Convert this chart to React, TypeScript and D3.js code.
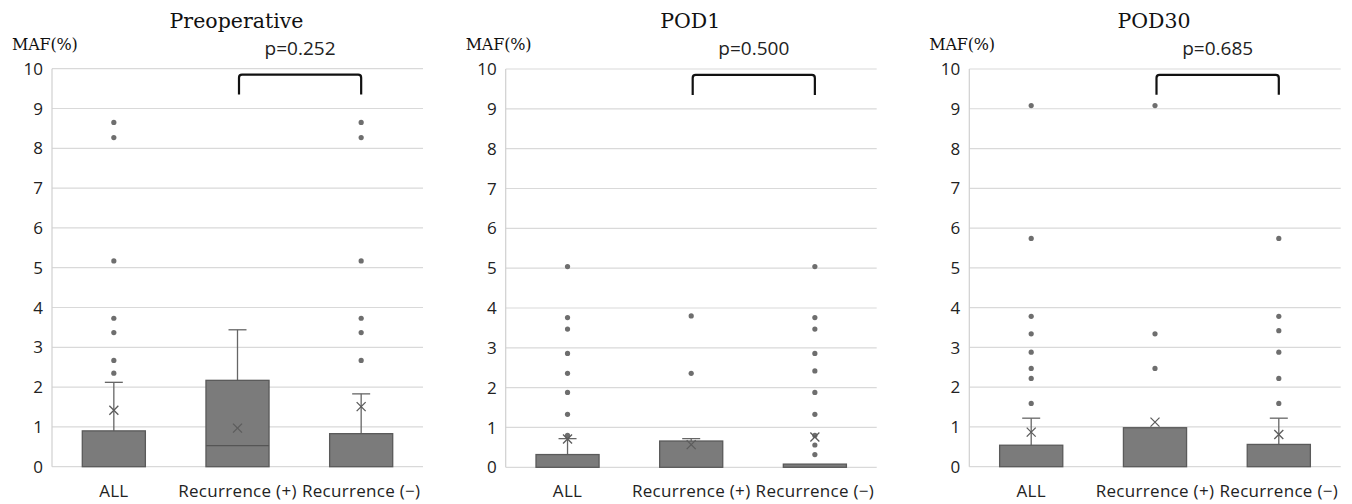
import * as d3 from 'd3';
import React from 'react';

const categories = ['ALL', 'Recurrence (+)', 'Recurrence (−)'];
const panelTitles = ['Preoperative', 'POD1', 'POD30'];
const pValues = ['p=0.252', 'p=0.500', 'p=0.685'];
const yTicks = [0, 1, 2, 3, 4, 5, 6, 7, 8, 9, 10];

// [q1, median, q3, whiskerHigh, mean] per category
const preBoxes = [
  [0, 0, 0.9, 2.12, 1.42],
  [0, 0.53, 2.17, 3.44, 0.97],
  [0, 0, 0.83, 1.83, 1.51],
];
const pod1Boxes = [
  [0, 0, 0.32, 0.72, 0.71],
  [0, 0, 0.66, 0.72, 0.57],
  [0, 0, 0.08, 0.08, 0.76],
];
const pod30Boxes = [
  [0, 0, 0.54, 1.22, 0.87],
  [0, 0, 0.98, 0.98, 1.12],
  [0, 0, 0.56, 1.22, 0.81],
];

const preOutliers = [
  [2.35, 2.67, 3.37, 3.73, 5.17, 8.27, 8.65],
  [],
  [2.67, 3.37, 3.73, 5.17, 8.27, 8.65],
];
const pod1Outliers = [
  [0.8, 1.33, 1.88, 2.36, 2.86, 3.47, 3.76, 5.04],
  [2.36, 3.8],
  [0.32, 0.56, 0.8, 1.33, 1.88, 2.42, 2.86, 3.47, 3.76, 5.04],
];
const pod30Outliers = [
  [1.59, 2.22, 2.47, 2.88, 3.34, 3.78, 5.74, 9.08],
  [2.47, 3.34, 9.08],
  [1.59, 2.22, 2.88, 3.42, 3.78, 5.74],
];

const boxesByPanel = [preBoxes, pod1Boxes, pod30Boxes];
const outliersByPanel = [preOutliers, pod1Outliers, pod30Outliers];

const panels = [
  { left: 52, right: 423, top: 68.7, bottom: 466.7 },
  { left: 505.7, right: 876.7, top: 69, bottom: 467.3 },
  { left: 969.3, right: 1340.7, top: 69, bottom: 466.7 },
];

const sans = "'Open Sans', 'Noto Sans', sans-serif";
const serif = "'DejaVu Serif', 'Liberation Serif', serif";

function Panel({ idx }: { idx: number }) {
  const p = panels[idx];
  const x = d3.scaleBand().domain(categories).range([p.left, p.right]);
  const y = d3.scaleLinear().domain([0, 10]).range([p.bottom, p.top]);
  const bw = x.bandwidth() * 0.51;
  const boxes = boxesByPanel[idx];
  const outliers = outliersByPanel[idx];
  const cx = (c: string) => (x(c) as number) + x.bandwidth() / 2;
  const bl = cx(categories[1]) + 1.5;
  const br = cx(categories[2]);
  const bTop = y(9.85);
  const bBot = y(9.35);
  const r = 3;
  return (
    <g>
      <text x={(p.left + p.right) / 2 - 1} y={28} textAnchor="middle" fontFamily={serif} fontSize={20.5} fill="#111">
        {panelTitles[idx]}
      </text>
      <text x={p.left - 40} y={50} fontFamily={serif} fontSize={16} fill="#111" letterSpacing={-0.2}>
        MAF(%)
      </text>
      {yTicks.map((t) => (
        <g key={t}>
          <line x1={p.left} x2={p.right} y1={y(t)} y2={y(t)} stroke="#d9d9d9" strokeWidth={1.2} />
          <text x={p.left - 9} y={y(t)} dy="0.36em" textAnchor="end" fontFamily={sans} fontSize={17} fill="#222">
            {t}
          </text>
        </g>
      ))}
      <line x1={p.left} x2={p.left} y1={p.top} y2={p.bottom} stroke="#d0d0d0" strokeWidth={1.2} />
      {categories.map((c, i) => {
        const [q1, med, q3, wh, mean] = boxes[i];
        const c0 = cx(c);
        return (
          <g key={c}>
            {wh > q3 && (
              <g stroke="#666" strokeWidth={1.3}>
                <line x1={c0} x2={c0} y1={y(q3)} y2={y(wh)} />
                <line x1={c0 - 9} x2={c0 + 9} y1={y(wh)} y2={y(wh)} />
              </g>
            )}
            <rect
              x={c0 - bw / 2}
              y={y(q3)}
              width={bw}
              height={y(q1) - y(q3)}
              fill="#7b7b7b"
              stroke="#5a5a5a"
              strokeWidth={1.3}
            />
            {med > q1 && (
              <line x1={c0 - bw / 2} x2={c0 + bw / 2} y1={y(med)} y2={y(med)} stroke="#555" strokeWidth={1.3} />
            )}
            {outliers[i].map((v, k) => (
              <circle key={k} cx={c0} cy={y(v)} r={2.6} fill="#6e6e6e" />
            ))}
            <g stroke="#5c5c5c" strokeWidth={1.3}>
              <line x1={c0 - 4.5} x2={c0 + 4.5} y1={y(mean) - 4.5} y2={y(mean) + 4.5} />
              <line x1={c0 - 4.5} x2={c0 + 4.5} y1={y(mean) + 4.5} y2={y(mean) - 4.5} />
            </g>
            <text x={c0} y={497} textAnchor="middle" fontFamily={sans} fontSize={17} fill="#222" letterSpacing={0.3}>
              {c}
            </text>
          </g>
        );
      })}
      <path
        d={`M${bl},${bBot} V${bTop + r} Q${bl},${bTop} ${bl + r},${bTop} H${br - r} Q${br},${bTop} ${br},${bTop + r} V${bBot}`}
        fill="none"
        stroke="#111"
        strokeWidth={2.2}
      />
      <text x={(bl + br) / 2} y={55} textAnchor="middle" fontFamily={sans} fontSize={19} fill="#222">
        {pValues[idx]}
      </text>
    </g>
  );
}

export default function App() {
  return (
    <svg width={1352} height={504} style={{ position: 'absolute', left: 0, top: 0, background: '#fff' }}>
      <rect width={1352} height={504} fill="#fff" />
      {panels.map((_, i) => (
        <Panel key={i} idx={i} />
      ))}
    </svg>
  );
}
